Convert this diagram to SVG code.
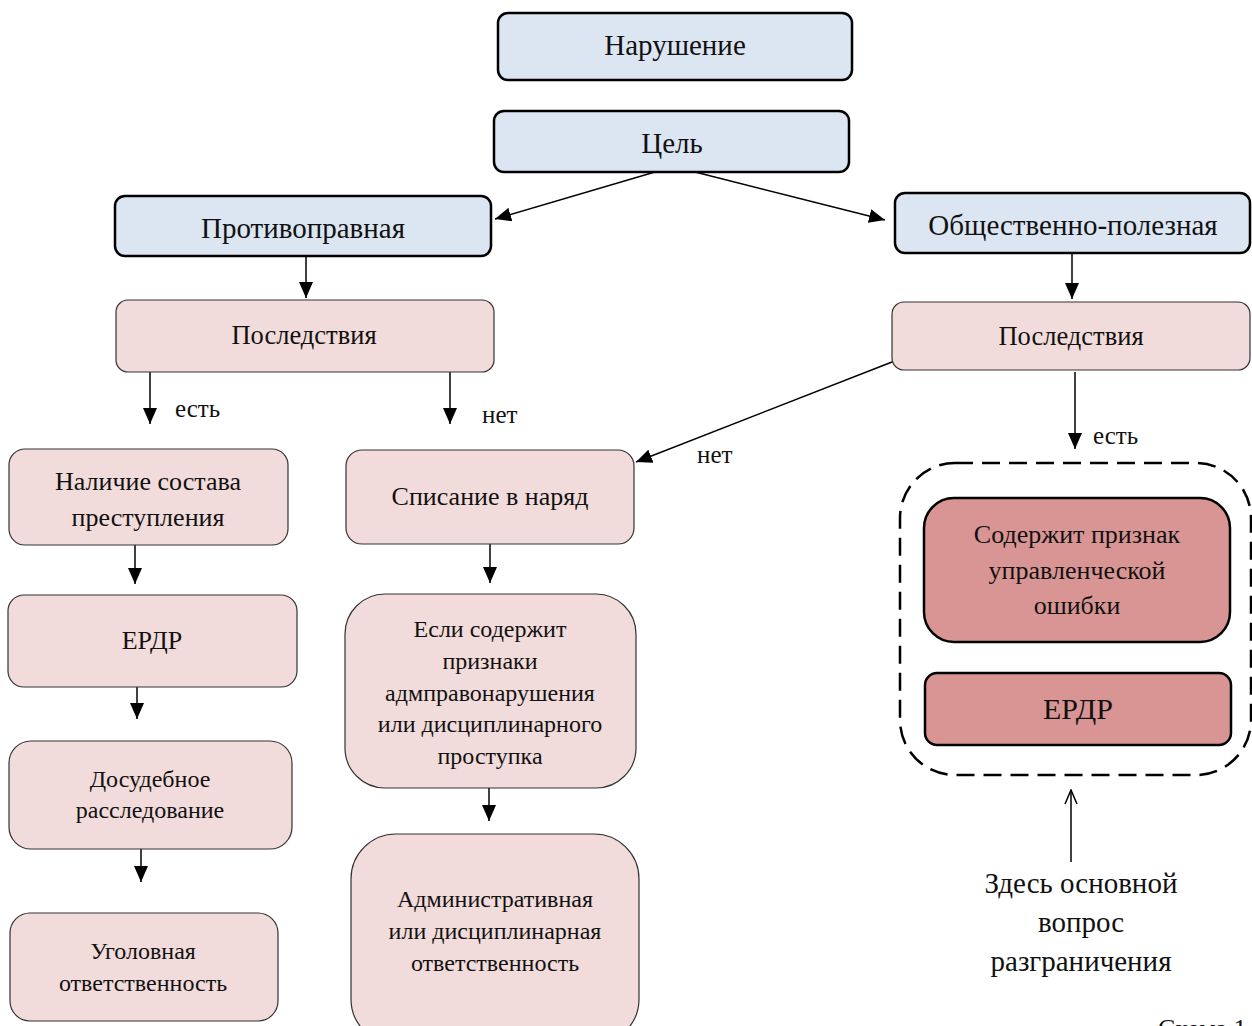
<svg xmlns="http://www.w3.org/2000/svg" width="1252" height="1026" viewBox="0 0 1252 1026">
<defs>
<marker id="ah" markerWidth="16" markerHeight="14" refX="16" refY="7" orient="auto" markerUnits="userSpaceOnUse">
<path d="M0,0 L16,7 L0,14 Z" fill="#000"/>
</marker>
<marker id="open" markerWidth="16" markerHeight="14" refX="15" refY="7" orient="auto" markerUnits="userSpaceOnUse">
<path d="M1,1 L15,7 L1,13" fill="none" stroke="#000" stroke-width="1.5"/>
</marker>
<style>
text{font-family:"Liberation Serif","Times New Roman",serif;fill:#111;text-anchor:middle}
.blue{fill:#dce6f2;stroke:#000;stroke-width:2.5}
.pink{fill:#f2dcdb;stroke:#333;stroke-width:1.2}
.red{fill:#d99594;stroke:#000;stroke-width:2.5}
.c{stroke:#000;stroke-width:1.5;fill:none;marker-end:url(#ah)}
.lbl{font-size:25px;text-anchor:start}
</style>
</defs>
<rect width="1252" height="1026" fill="#fff"/>
<g id="connectors">
<line class="c" x1="655" y1="172" x2="495" y2="219"/>
<line class="c" x1="695" y1="172" x2="885" y2="220"/>
<line class="c" x1="306" y1="256" x2="306" y2="298"/>
<line class="c" x1="1072" y1="253" x2="1072" y2="299"/>
<line class="c" x1="150" y1="372" x2="150" y2="424"/>
<line class="c" x1="450" y1="372" x2="450" y2="424"/>
<line class="c" x1="892" y1="362" x2="636" y2="462"/>
<line class="c" x1="1075" y1="372" x2="1075" y2="449"/>
<line class="c" x1="135" y1="545" x2="135" y2="584"/>
<line class="c" x1="137" y1="687" x2="137" y2="719"/>
<line class="c" x1="141" y1="849" x2="141" y2="882"/>
<line class="c" x1="490" y1="544" x2="490" y2="583"/>
<line class="c" x1="489" y1="788" x2="489" y2="821"/>
<line x1="1071" y1="862" x2="1071" y2="790" stroke="#000" stroke-width="1.5" marker-end="url(#open)"/>
<text class="lbl" x="175" y="417">есть</text>
<text class="lbl" x="482" y="423">нет</text>
<text class="lbl" x="697" y="463">нет</text>
<text class="lbl" x="1093" y="444">есть</text>
</g>
<g id="n-narushenie"><rect class="blue" x="498" y="13" width="354" height="67" rx="10"/><text x="675" y="55" font-size="29">Нарушение</text></g>
<g id="n-tsel"><rect class="blue" x="494" y="111" width="355" height="61" rx="10"/><text x="672" y="153" font-size="29">Цель</text></g>
<g id="n-protivopravnaya"><rect class="blue" x="115" y="196" width="376" height="60" rx="10"/><text x="303" y="238" font-size="29">Противоправная</text></g>
<g id="n-obshchestvenno"><rect class="blue" x="895" y="193" width="355" height="60" rx="10"/><text x="1073" y="235" font-size="29">Общественно-полезная</text></g>
<g id="n-posledstviya-l"><rect class="pink" x="116" y="300" width="378" height="72" rx="12"/><text x="304" y="344" font-size="26.5">Последствия</text></g>
<g id="n-posledstviya-r"><rect class="pink" x="892" y="302" width="358" height="68" rx="12"/><text x="1071" y="345" font-size="26.5">Последствия</text></g>
<g id="n-nalichie"><rect class="pink" x="9" y="449" width="279" height="96" rx="16"/><text x="148" y="490" font-size="26">Наличие состава</text><text x="148" y="526" font-size="26">преступления</text></g>
<g id="n-erdr-l"><rect class="pink" x="8" y="595" width="289" height="92" rx="16"/><text x="152" y="649" font-size="26">ЕРДР</text></g>
<g id="n-dosudebnoe"><rect class="pink" x="9" y="741" width="283" height="108" rx="22"/><text x="150" y="787" font-size="24">Досудебное</text><text x="150" y="818" font-size="24">расследование</text></g>
<g id="n-ugolovnaya"><rect class="pink" x="10" y="913" width="268" height="108" rx="20"/><text x="143" y="959" font-size="24">Уголовная</text><text x="143" y="991" font-size="24">ответственность</text></g>
<g id="n-spisanie"><rect class="pink" x="346" y="450" width="288" height="94" rx="16"/><text x="490" y="505" font-size="26">Списание в наряд</text></g>
<g id="n-esli"><rect class="pink" x="345" y="594" width="291" height="194" rx="40"/><text x="490" y="637" font-size="24">Если содержит</text><text x="490" y="669" font-size="24">признаки</text><text x="490" y="701" font-size="24">адмправонарушения</text><text x="490" y="732" font-size="24">или дисциплинарного</text><text x="490" y="764" font-size="24">проступка</text></g>
<g id="n-admin"><rect class="pink" x="351" y="834" width="288" height="210" rx="45"/><text x="495" y="907" font-size="24">Административная</text><text x="495" y="939" font-size="24">или дисциплинарная</text><text x="495" y="971" font-size="24">ответственность</text></g>
<g id="n-group"><rect x="900" y="463" width="351" height="312" rx="55" fill="none" stroke="#000" stroke-width="2.5" stroke-dasharray="18 9"/></g>
<g id="n-oshibka"><rect class="red" x="924" y="498" width="306" height="144" rx="30"/><text x="1077" y="543" font-size="26">Содержит признак</text><text x="1077" y="579" font-size="26">управленческой</text><text x="1077" y="614" font-size="26">ошибки</text></g>
<g id="n-erdr-r"><rect class="red" x="925" y="673" width="306" height="72" rx="12"/><text x="1078" y="719" font-size="30">ЕРДР</text></g>
<g id="n-note"><text x="1081" y="893" font-size="29">Здесь основной</text><text x="1081" y="932" font-size="29">вопрос</text><text x="1081" y="971" font-size="29">разграничения</text></g>
<text x="1158" y="1037" font-size="26" style="text-anchor:start">Схема 1</text>
</svg>
